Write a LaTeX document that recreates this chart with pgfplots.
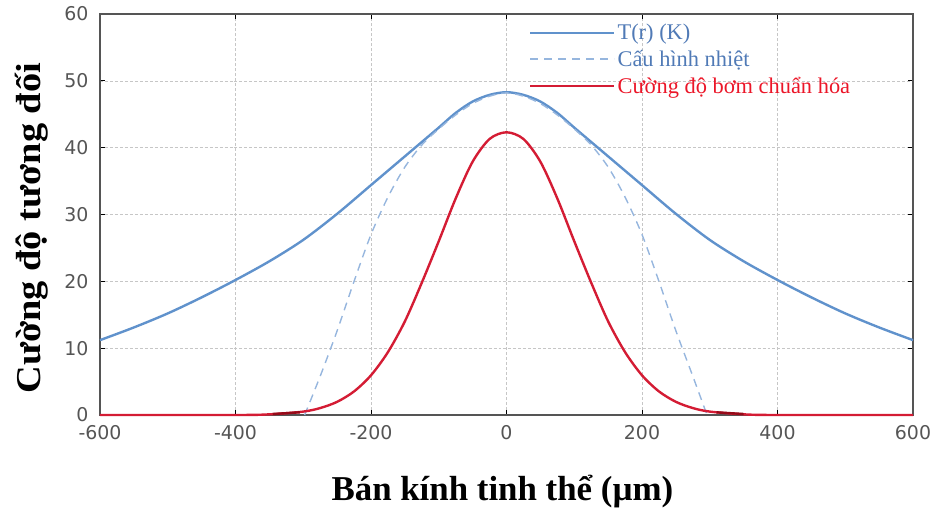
\documentclass[border=0pt]{standalone}
\usepackage{fontspec}
\setmainfont{Liberation Serif}
\newfontfamily\tickfont{DejaVu Sans}
\usepackage{graphicx}
\usepackage{pgfplots}
\pgfplotsset{compat=1.18}
\definecolor{tblue}{RGB}{96,146,204}
\definecolor{dblue}{RGB}{150,182,222}
\definecolor{tred}{RGB}{212,28,52}
\definecolor{dred}{RGB}{150,10,25}
\definecolor{ltxt}{RGB}{80,122,182}
\definecolor{rtxt}{RGB}{235,22,40}
\definecolor{axgray}{RGB}{85,85,85}
\begin{document}
\begin{tikzpicture}
\path[use as bounding box] (-100bp,-93bp) rectangle (834bp,415bp);
\begin{axis}[
 at={(0,0)}, anchor=south west,
 scale only axis, width=813bp, height=401bp,
 xmin=-600, xmax=600, ymin=0, ymax=60,
 xtick={-600,-400,...,600}, ytick={0,10,...,60},
 grid=major, grid style={densely dashed, gray!45, line width=0.6pt},
 axis line style={axgray, line width=1.2pt},
 tick style={black, line width=1pt},
 major tick length=5bp,
 tick align=inside,
 ticklabel style={font=\tickfont\fontsize{19}{19}\selectfont, text=axgray},
 xticklabel style={yshift=-7bp},
 yticklabel style={xshift=-8bp},
 /pgf/number format/assume math mode=true,
 clip=false,
 xlabel={Bán kính tinh thể (µm)}, ylabel={\scalebox{1.1}[1]{Cường độ tương đối}},
 label style={font=\bfseries\fontsize{35}{40}\selectfont},
 xlabel style={at={(axis description cs:0.495,-0.212)}, anchor=base},
 ylabel style={at={(axis description cs:-0.0726,0.466)}, anchor=base},
 legend cell align=left,
 legend style={draw=none, fill=none, font=\fontsize{22.5}{26}\selectfont,
   at={(axis description cs:0.524,0.985)}, anchor=north west, row sep=5bp},
 legend image code/.code={\path (0bp,0bp) -- (84bp,0bp); \draw[#1] (0bp,0bp) -- (75bp,0bp);},
]
\addplot[tblue, line width=2.4pt, smooth] coordinates {
(-600,11.2)(-550,13.1)(-500,15.2)(-450,17.6)(-400,20.2)(-350,23.0)(-300,26.2)(-250,30.1)(-200,34.4)(-150,38.7)(-125,40.85)(-100,43.0)(-75,45.2)(-50,46.9)(-25,47.9)(0,48.3)
(25,47.9)(50,46.9)(75,45.2)(100,43.0)(125,40.85)(150,38.7)(200,34.4)(250,30.1)(300,26.2)(350,23.0)(400,20.2)(450,17.6)(500,15.2)(550,13.1)(600,11.2)};
\addlegendentry{\textcolor{ltxt}{T(r) (K)}}
\addplot[dblue, line width=1.4pt, dash pattern=on 8bp off 6bp, smooth] coordinates {
(-298,0)(-275,5.8)(-250,12.6)(-225,20.0)(-200,27.0)(-175,32.6)(-150,37.1)(-125,40.4)(-100,42.8)(-75,44.9)(-50,46.6)(-25,47.7)(0,48.2)
(25,47.7)(50,46.6)(75,44.9)(100,42.8)(125,40.4)(150,37.1)(175,32.6)(200,27.0)(225,20.0)(250,12.6)(275,5.8)(296,0)};
\addlegendentry{\textcolor{ltxt}{Cấu hình nhiệt}}
\addplot[tred, line width=2.4pt, smooth] coordinates {
(-600,0)(-400,0)(-350,0.1)(-300,0.51)(-275,1.04)(-250,1.97)(-225,3.53)(-200,5.94)(-175,9.41)(-150,14.01)(-125,19.8)(-100,26.0)(-75,32.4)(-50,37.9)(-25,41.3)(0,42.3)
(25,41.3)(50,37.9)(75,32.4)(100,26.0)(125,19.8)(150,14.01)(175,9.41)(200,5.94)(225,3.53)(250,1.97)(275,1.04)(300,0.51)(350,0.1)(400,0)(600,0)};
\addlegendentry{\textcolor{rtxt}{Cường độ bơm chuẩn hóa}}
\addplot[dred, line width=2.4pt, forget plot] coordinates {(-345,0.15)(-305,0.4)};
\addplot[dred, line width=2.4pt, forget plot] coordinates {(310,0.4)(350,0.15)};
\end{axis}
\end{tikzpicture}
\end{document}
